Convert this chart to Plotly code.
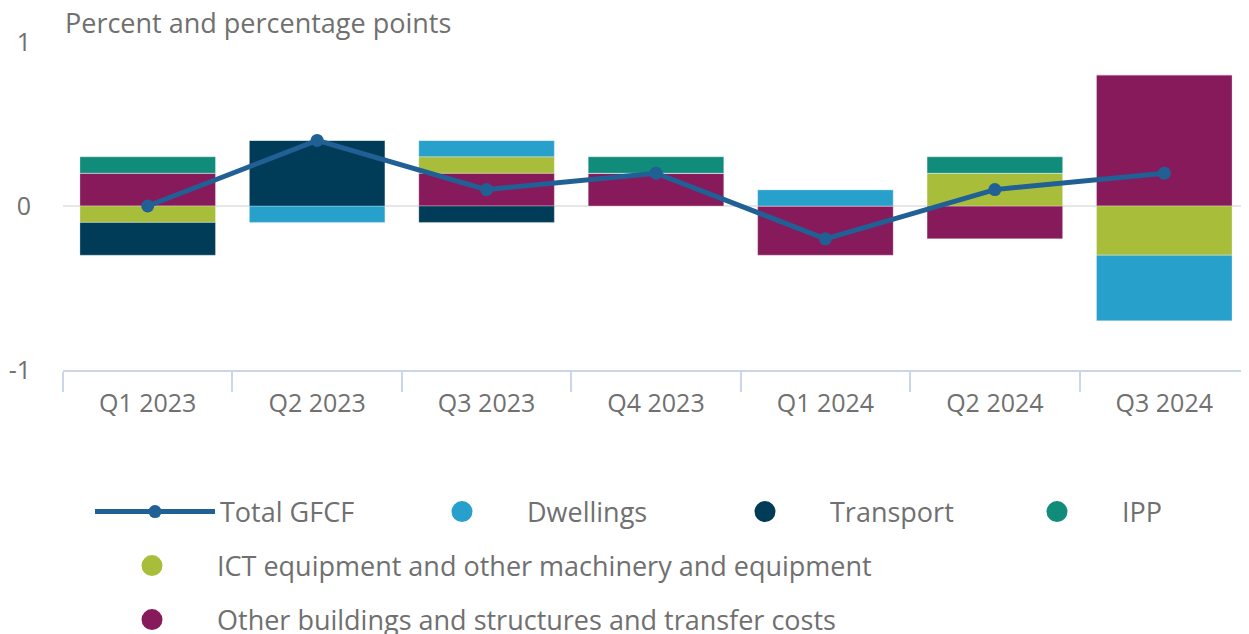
import plotly.graph_objects as go

categories = ["Q1 2023", "Q2 2023", "Q3 2023", "Q4 2023", "Q1 2024", "Q2 2024", "Q3 2024"]
total_gfcf = [0.0, 0.4, 0.1, 0.2, -0.2, 0.1, 0.2]
dwellings = [0.0, -0.1, 0.1, 0.0, 0.1, 0.0, -0.4]
transport = [-0.2, 0.4, -0.1, 0.0, 0.0, 0.0, 0.0]
ipp = [0.1, 0.0, 0.0, 0.1, 0.0, 0.1, 0.0]
ict = [-0.1, 0.0, 0.1, 0.0, 0.0, 0.2, -0.3]
other = [0.2, 0.0, 0.2, 0.2, -0.3, -0.2, 0.8]

names = {
    "total": "Total GFCF",
    "dwellings": "Dwellings",
    "transport": "Transport",
    "ipp": "IPP",
    "ict": "ICT equipment and other machinery and equipment",
    "other": "Other buildings and structures and transfer costs",
}
colors = {
    "total": "#206095",
    "dwellings": "#27a0cc",
    "transport": "#003c57",
    "ipp": "#118c7b",
    "ict": "#a8bd3a",
    "other": "#871a5b",
}

TXT = "#707070"
FONT = "Open Sans"
PAGE_OFF = 8          # default body margin of the html page
W, H = 1249 - PAGE_OFF, 634 - PAGE_OFF

fig = go.Figure()

# stacked bars (order = stacking order from zero outward)
for key, vals in [("other", other), ("ict", ict), ("dwellings", dwellings),
                  ("transport", transport), ("ipp", ipp)]:
    fig.add_trace(go.Bar(
        x=categories, y=vals, name=names[key], marker_color=colors[key],
        marker_line_width=0.6, marker_line_color="rgba(255,255,255,0.5)",
        showlegend=False, width=0.8,
    ))

fig.add_trace(go.Scatter(
    x=categories, y=total_gfcf, name=names["total"], mode="lines+markers",
    line=dict(color=colors["total"], width=5), marker=dict(size=13, color=colors["total"]),
    legend="legend",
))

# legend entries with circle symbols, each in its own legend box
legend_slots = [("dwellings", "legend2"), ("transport", "legend3"), ("ipp", "legend4"),
                ("ict", "legend5"), ("other", "legend6")]
for key, lg in legend_slots:
    fig.add_trace(go.Scatter(
        x=[None], y=[None], mode="markers", name=names[key],
        marker=dict(size=16, color=colors[key], symbol="circle",
                    line=dict(color=colors[key], width=5)),
        legend=lg,
    ))

OFF = 5  # px between legend box edge and symbol start
IW = 120


def leg(win_x, win_y):
    px_x, px_y = win_x - PAGE_OFF, win_y - PAGE_OFF
    return dict(
        orientation="h", xref="container", yref="container",
        x=(px_x - OFF) / W, y=1 - px_y / H, xanchor="left", yanchor="middle",
        font=dict(family=FONT, size=27, color=TXT), bgcolor="rgba(0,0,0,0)",
        itemwidth=IW,
    )


fig.update_layout(
    width=W, height=H,
    margin=dict(l=63 - PAGE_OFF, r=0, t=42 - PAGE_OFF, b=H - (370 - PAGE_OFF), autoexpand=False),
    paper_bgcolor="white", plot_bgcolor="white",
    barmode="relative", bargap=0.2,
    font=dict(family=FONT, size=25, color=TXT),
    legend=leg(95, 512),
    legend2=leg(402, 512),
    legend3=leg(705, 512),
    legend4=leg(997, 512),
    legend5=leg(92, 566),
    legend6=leg(92, 620),
    annotations=[dict(
        text="Percent and percentage points", xref="paper", yref="paper",
        x=0, y=1.0, xanchor="left", yanchor="bottom", showarrow=False,
        font=dict(family=FONT, size=27, color=TXT), xshift=0, yshift=-1,
    )],
)

fig.update_xaxes(
    type="category", showline=True, linecolor="#ccd6eb", linewidth=1.5,
    ticks="outside", tickson="boundaries", ticklen=20, tickcolor="#ccd6eb", tickwidth=1.5,
    showgrid=False, tickfont=dict(family=FONT, size=25, color=TXT), ticklabelstandoff=10,
)
fig.update_yaxes(
    range=[-1, 1], tickvals=[-1, 0, 1], ticktext=["-1", "0", "1"],
    showgrid=True, gridcolor="#e6e6e6", gridwidth=1.5,
    zeroline=True, zerolinecolor="#e6e6e6", zerolinewidth=1.5,
    ticks="", ticklabelstandoff=31, tickfont=dict(family=FONT, size=25, color=TXT),
)

fig.write_html("out.html")
